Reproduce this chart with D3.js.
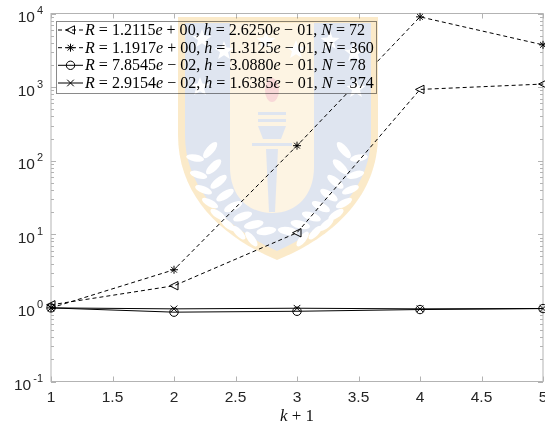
<!DOCTYPE html>
<html><head><meta charset="utf-8">
<script src="https://cdn.jsdelivr.net/npm/d3@7"></script>
<style>html,body{margin:0;background:#fff}svg{display:block}</style>
</head><body>
<script>
// ---- data ----
const steps = [1, 2, 3, 4, 5];
const triangleVals = [1.1, 2.0, 10.5, 930, 1100];
const starVals = [1.0, 3.3, 160, 9000, 3750];
const circleVals = [1.0, 0.875, 0.9, 0.95, 0.98];
const crossVals = [1.0, 0.97, 0.99, 0.97, 0.98];
const xTickVals = [1, 1.5, 2, 2.5, 3, 3.5, 4, 4.5, 5];
const xTickLabels = ["1", "1.5", "2", "2.5", "3", "3.5", "4", "4.5", "5"];
const yDecades = [-1, 0, 1, 2, 3, 4];
const legendR = ["1.2115e + 00", "1.1917e + 00", "7.8545e − 02", "2.9154e − 02"];
const legendH = ["2.6250e − 01", "1.3125e − 01", "3.0880e − 01", "1.6385e − 01"];
const legendN = ["72", "360", "78", "374"];

const W = 545, H = 427;
const svg = d3.select("body").append("svg").attr("width", W).attr("height", H);

const x = d3.scaleLinear().domain([1, 5]).range([51, 543]);
const y = d3.scaleLog().domain([0.1, 1e4]).range([381.5, 13.5]);

const axisColor = "#b3b3b3";
const tickTextColor = "#262626";
const sans = "'Liberation Sans', Arial, sans-serif";
const serif = "'Liberation Serif', 'Times New Roman', serif";

// ---- axes box and ticks ----
const ax = svg.append("g");
ax.append("rect").attr("x", x(1)).attr("y", y(1e4))
  .attr("width", x(5) - x(1)).attr("height", y(0.1) - y(1e4))
  .attr("fill", "none").attr("stroke", axisColor).attr("stroke-width", 1);

xTickVals.forEach(v => {
  const px = Math.round(x(v)) + 0.5;
  ax.append("line").attr("x1", px).attr("x2", px).attr("y1", y(0.1)).attr("y2", y(0.1) - 5).attr("stroke", axisColor);
  ax.append("line").attr("x1", px).attr("x2", px).attr("y1", y(1e4)).attr("y2", y(1e4) + 5).attr("stroke", axisColor);
});
xTickVals.forEach((v, i) => {
  ax.append("text").attr("x", x(v)).attr("y", 402).attr("text-anchor", "middle")
    .attr("font-family", sans).attr("font-size", 15.5).attr("fill", tickTextColor)
    .text(xTickLabels[i]);
});

// minor + major log ticks
yDecades.forEach(d => {
  const base = Math.pow(10, d);
  const py = Math.round(y(base)) + 0.5;
  [x(1), x(5)].forEach((px, k) => {
    const dir = k === 0 ? 1 : -1;
    ax.append("line").attr("x1", px).attr("x2", px + dir * 5).attr("y1", py).attr("y2", py).attr("stroke", axisColor);
  });
  if (d < 4) {
    for (let m = 2; m <= 9; m++) {
      const my = Math.round(y(base * m)) + 0.5;
      [x(1), x(5)].forEach((px, k) => {
        const dir = k === 0 ? 1 : -1;
        ax.append("line").attr("x1", px).attr("x2", px + dir * 3).attr("y1", my).attr("y2", my).attr("stroke", axisColor);
      });
    }
  }
  const t = ax.append("text").attr("x", 43).attr("y", y(base) + 8.5).attr("text-anchor", "end")
    .attr("font-family", sans).attr("font-size", 15.5).attr("fill", tickTextColor);
  t.append("tspan").text("10");
  t.append("tspan").attr("dx", 2).attr("dy", -8).attr("font-size", 11).text(String(d));
});

// x-axis title
const xt = svg.append("text").attr("x", x(3)).attr("y", 421).attr("text-anchor", "middle")
  .attr("font-family", serif).attr("font-size", 17).attr("fill", "#111");
xt.append("tspan").attr("font-style", "italic").text("k");
xt.append("tspan").text(" + 1");

// ---- series ----
const series = [
  { vals: triangleVals, dash: "4,3", marker: "tri" },
  { vals: starVals, dash: "4,3", marker: "star" },
  { vals: circleVals, dash: null, marker: "circle" },
  { vals: crossVals, dash: null, marker: "cross" }
];

function drawMarker(g, type, cx, cy) {
  const s = g.append("g").attr("transform", `translate(${cx},${cy})`)
    .attr("fill", "none").attr("stroke", "#000").attr("stroke-width", 1);
  if (type === "tri") {
    s.append("path").attr("d", "M-4.5,0L4,-4.2L4,4.2Z");
  } else if (type === "star") {
    const r = 4;
    s.append("path").attr("d", `M${-r},0H${r}M0,${-r}V${r}M${-r*0.72},${-r*0.72}L${r*0.72},${r*0.72}M${-r*0.72},${r*0.72}L${r*0.72},${-r*0.72}`);
  } else if (type === "circle") {
    s.append("circle").attr("r", 4.2);
  } else if (type === "cross") {
    const r = 3.3;
    s.append("path").attr("d", `M${-r},${-r}L${r},${r}M${-r},${r}L${r},${-r}`);
  }
}

const line = d3.line().x((d, i) => x(steps[i])).y(d => y(d));
const plot = svg.append("g");
series.forEach(sr => {
  plot.append("path").attr("d", line(sr.vals)).attr("fill", "none")
    .attr("stroke", "#000").attr("stroke-width", 1)
    .attr("stroke-dasharray", sr.dash);
});
series.forEach(sr => {
  sr.vals.forEach((v, i) => drawMarker(plot, sr.marker, x(steps[i]), y(v)));
});

// ---- legend ----
const lg = svg.append("g");
lg.append("rect").attr("x", 56.5).attr("y", 21.5).attr("width", 320).attr("height", 72)
  .attr("fill", "#fff").attr("stroke", "#8a8a8a").attr("stroke-width", 1);

function pieces(i) {
  const [rm, re] = legendR[i].split("e");
  const [hm, he] = legendH[i].split("e");
  return [
    ["R", true], [" = " + rm, false], ["e", true], [re + ", ", false],
    ["h", true], [" = " + hm, false], ["e", true], [he + ", ", false],
    ["N", true], [" = " + legendN[i], false]
  ];
}

const baseFont = 15.5;
const rowY = [35, 52.7, 70.3, 88];
const texts = [];
series.forEach((sr, i) => {
  const cy = rowY[i] - 5;
  lg.append("line").attr("x1", 58).attr("x2", 83).attr("y1", cy).attr("y2", cy)
    .attr("stroke", "#000").attr("stroke-width", 1).attr("stroke-dasharray", sr.dash);
  drawMarker(lg, sr.marker, 70.5, cy);
  const t = lg.append("text").attr("x", 85).attr("y", rowY[i])
    .attr("font-family", serif).attr("font-size", baseFont).attr("fill", "#000");
  pieces(i).forEach(([s, it]) => {
    const ts = t.append("tspan").text(s.replace(/ /g, "\u00a0"));
    if (it) ts.attr("font-style", "italic");
  });
  texts.push(t);
});
// fit font size so the longest row spans the legend box
const longest = d3.max(texts, t => t.node().getComputedTextLength());
const fs = baseFont * 289 / longest;
texts.forEach(t => t.attr("font-size", fs));

// ---- crest watermark (multiplied over the figure) ----
const wm = svg.append("g").attr("transform", "translate(178,17)")
  .style("mix-blend-mode", "multiply").attr("opacity", 0.55);
const yellow = "#f8d99c", blue = "#c5cfe4", panel = "#fcebcb";
wm.append("path").attr("d", "M0,0H200V118C200,182 151,222 99,243C48,222 0,182 0,118Z").attr("fill", yellow);
wm.append("path").attr("d", "M7,6H193V118C193,177 145,213 99,234C54,213 7,177 7,118Z").attr("fill", blue);
wm.append("path").attr("d", "M52,6H136V150C136,178 119,196 94,196C69,196 52,178 52,150Z").attr("fill", panel);

function starPath(cx, cy, R) {
  const pts = [];
  for (let k = 0; k < 10; k++) {
    const a = -Math.PI / 2 + k * Math.PI / 5;
    const r = k % 2 === 0 ? R : R * 0.42;
    pts.push([cx + r * Math.cos(a), cy + r * Math.sin(a)]);
  }
  return "M" + pts.map(p => p.join(",")).join("L") + "Z";
}
[[24, 22], [46, 34], [88, 24], [118, 33], [152, 24], [176, 36], [22, 70], [178, 72]]
  .forEach(([cx, cy]) => wm.append("path").attr("d", starPath(cx, cy, 10)).attr("fill", "#fff"));

// torch
wm.append("ellipse").attr("cx", 94).attr("cy", 73).attr("rx", 7).attr("ry", 12).attr("fill", "#f2b8b8");
wm.append("rect").attr("x", 80).attr("y", 95).attr("width", 28).attr("height", 3).attr("fill", blue);
wm.append("rect").attr("x", 80).attr("y", 102).attr("width", 28).attr("height", 3).attr("fill", blue);
wm.append("path").attr("d", "M80,109H108L103,122H85Z").attr("fill", blue);
wm.append("rect").attr("x", 74).attr("y", 126).attr("width", 40).attr("height", 3).attr("fill", blue);
wm.append("path").attr("d", "M88,132H100L97,195H91Z").attr("fill", blue);

// laurel branches
function branch(sign) {
  const p0 = [sign > 0 ? 22 : 176, 128], p1 = [sign > 0 ? 30 : 168, 205], p2 = [sign > 0 ? 91 : 107, 222];
  for (let k = 0; k < 8; k++) {
    const t = 0.06 + k * 0.12;
    const bx = (1 - t) * (1 - t) * p0[0] + 2 * t * (1 - t) * p1[0] + t * t * p2[0];
    const by = (1 - t) * (1 - t) * p0[1] + 2 * t * (1 - t) * p1[1] + t * t * p2[1];
    const ang = sign > 0 ? -50 + k * 6 : 230 - k * 6;
    wm.append("ellipse").attr("cx", bx + sign * 9).attr("cy", by - 4).attr("rx", 10).attr("ry", 4)
      .attr("transform", `rotate(${ang},${bx + sign * 9},${by - 4})`).attr("fill", "#fff");
    wm.append("ellipse").attr("cx", bx - sign * 6).attr("cy", by + 4).attr("rx", 9).attr("ry", 3.5)
      .attr("transform", `rotate(${ang + sign * 60},${bx - sign * 6},${by + 4})`).attr("fill", "#fff");
  }
}
branch(1); branch(-1);
</script>
</body></html>
